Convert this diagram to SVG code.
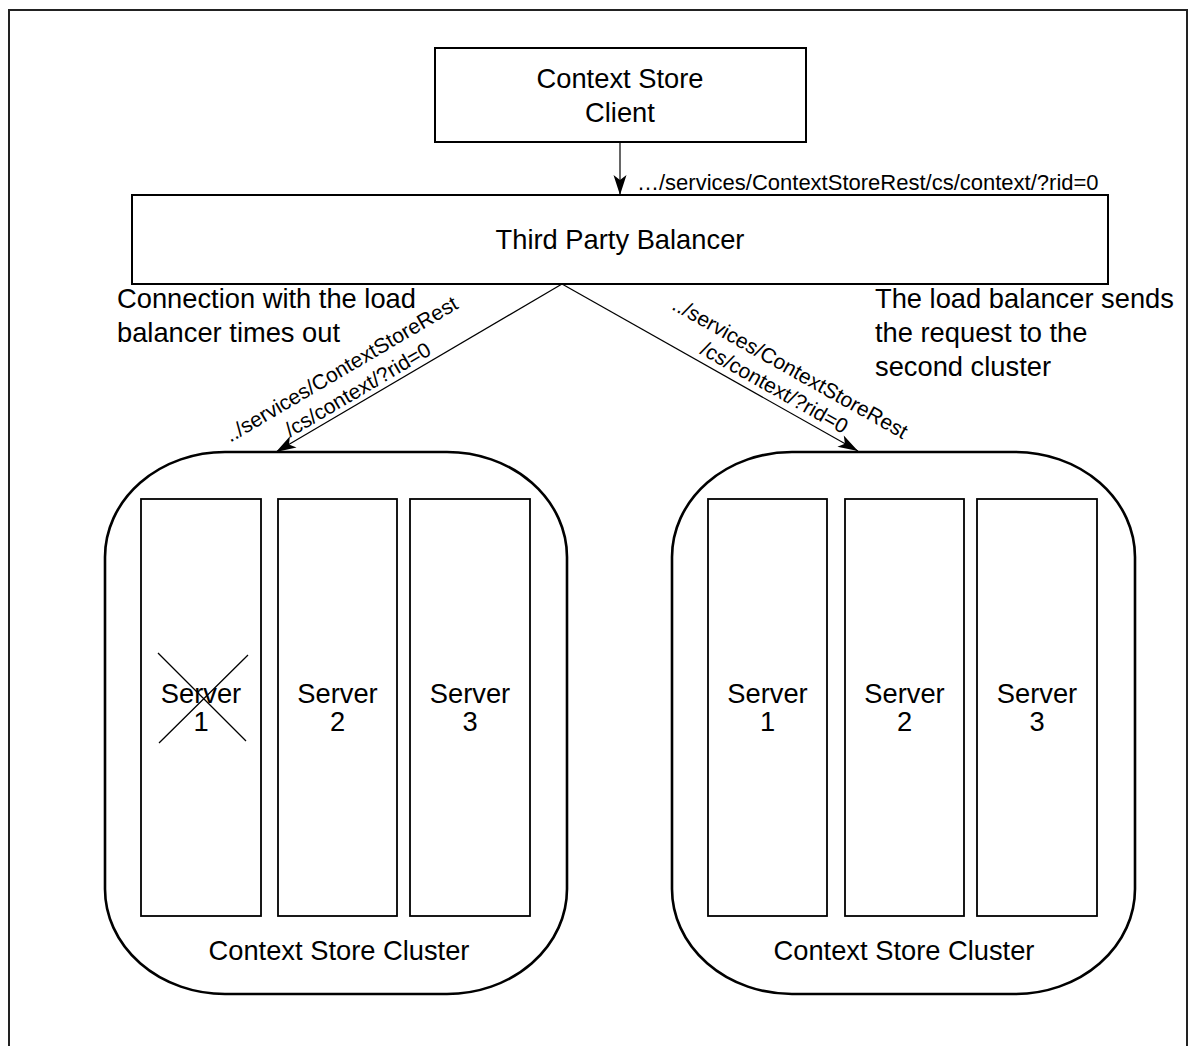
<svg xmlns="http://www.w3.org/2000/svg" width="1191" height="1046" viewBox="0 0 1191 1046">
<defs>
<style>
text{font-family:"Liberation Sans",Arial,sans-serif;fill:#000}
.lbl{font-size:27.3px}
.c{text-anchor:middle}
.url{font-size:21px}
.box{fill:#fff;stroke:#000;stroke-width:2}
.srv{fill:#fff;stroke:#000;stroke-width:1.8}
.cl{fill:#fff;stroke:#000;stroke-width:2.6}
.edge{fill:none;stroke:#000;stroke-width:1.2}
</style>
<marker id="ah" markerUnits="userSpaceOnUse" markerWidth="22" markerHeight="16" viewBox="0 0 22 16" refX="21" refY="8" orient="auto">
<path d="M1,1.5 L21,8 L1,14.5 L6,8 Z" fill="#000"/>
</marker>
</defs>
<rect x="9" y="10" width="1178" height="1060" fill="#fff" stroke="#222" stroke-width="2"/>

<g id="client">
<rect class="box" x="435" y="48" width="371" height="94"/>
<text class="lbl c" x="620" y="88">Context Store</text>
<text class="lbl c" x="620" y="122">Client</text>
</g>

<g id="balancer">
<rect class="box" x="132" y="195" width="976" height="89"/>
<text class="lbl c" x="620" y="249">Third Party Balancer</text>
</g>

<g id="cluster1">
<rect class="cl" x="105" y="452" width="462" height="542" rx="120" ry="105"/>
<g id="c1s1">
<rect class="srv" x="141" y="499" width="120" height="417"/>
<text class="lbl c" x="201" y="703">Server</text>
<text class="lbl c" x="201" y="731">1</text>
<path d="M158,653 L246,741 M159,743 L248,655" stroke="#000" stroke-width="1.3"/>
</g>
<g id="c1s2">
<rect class="srv" x="278" y="499" width="119" height="417"/>
<text class="lbl c" x="337.5" y="703">Server</text>
<text class="lbl c" x="337.5" y="731">2</text>
</g>
<g id="c1s3">
<rect class="srv" x="410" y="499" width="120" height="417"/>
<text class="lbl c" x="470" y="703">Server</text>
<text class="lbl c" x="470" y="731">3</text>
</g>
<text class="lbl c" x="339" y="960">Context Store Cluster</text>
</g>

<g id="cluster2">
<rect class="cl" x="672" y="452" width="463" height="542" rx="120" ry="105"/>
<g id="c2s1">
<rect class="srv" x="708" y="499" width="119" height="417"/>
<text class="lbl c" x="767.5" y="703">Server</text>
<text class="lbl c" x="767.5" y="731">1</text>
</g>
<g id="c2s2">
<rect class="srv" x="845" y="499" width="119" height="417"/>
<text class="lbl c" x="904.5" y="703">Server</text>
<text class="lbl c" x="904.5" y="731">2</text>
</g>
<g id="c2s3">
<rect class="srv" x="977" y="499" width="120" height="417"/>
<text class="lbl c" x="1037" y="703">Server</text>
<text class="lbl c" x="1037" y="731">3</text>
</g>
<text class="lbl c" x="904" y="960">Context Store Cluster</text>
</g>

<g id="note-left">
<text class="lbl" x="117" y="308">Connection with the load</text>
<text class="lbl" x="117" y="342">balancer times out</text>
</g>
<g id="note-right">
<text class="lbl" x="875" y="308">The load balancer sends</text>
<text class="lbl" x="875" y="342">the request to the</text>
<text class="lbl" x="875" y="376">second cluster</text>
</g>

<g id="connectors">
<line class="edge" x1="620" y1="142" x2="620" y2="195" marker-end="url(#ah)"/>
<text class="url" x="637" y="190" style="font-size:22px">…/services/ContextStoreRest/cs/context/?rid=0</text>
<line class="edge" x1="562" y1="284" x2="276" y2="452" marker-end="url(#ah)"/>
<line class="edge" x1="562" y1="284" x2="858" y2="451" marker-end="url(#ah)"/>
<g transform="translate(364,400) rotate(-30.5)">
<text class="url c" x="-4" y="-31">../services/ContextStoreRest</text>
<text class="url c" x="0" y="-5">/cs/context/?rid=0</text>
</g>
<g transform="translate(768,399) rotate(29.4)">
<text class="url c" x="4" y="-31">../services/ContextStoreRest</text>
<text class="url c" x="0" y="-6">/cs/context/?rid=0</text>
</g>
</g>
</svg>
